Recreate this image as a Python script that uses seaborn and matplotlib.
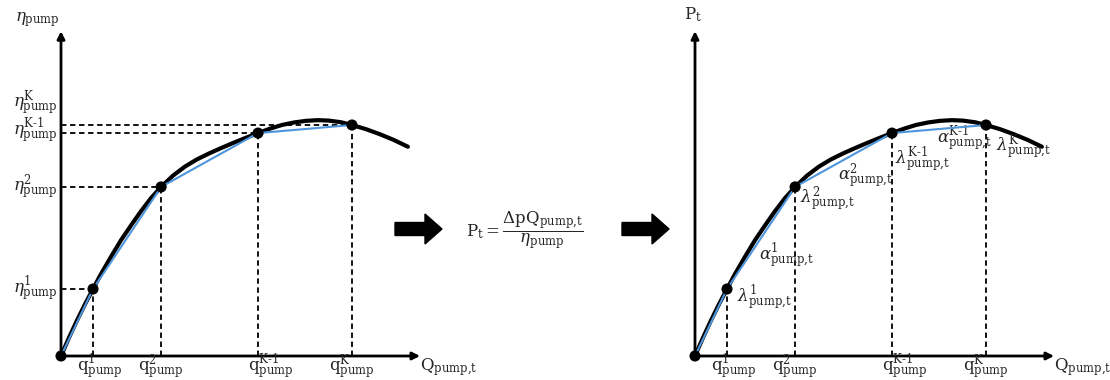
import matplotlib
matplotlib.use("Agg")
import matplotlib.pyplot as plt
import seaborn as sns
from matplotlib.patches import FancyArrow

# --- data (flow normalised so q^K = 1, efficiency so eta^K = 1) ---
curve_q = [0, 0.027, 0.055, 0.082, 0.11, 0.137, 0.172, 0.206, 0.241, 0.275, 0.309,
           0.344, 0.385, 0.426, 0.467, 0.509, 0.55, 0.591, 0.632, 0.677, 0.718,
           0.759, 0.801, 0.842, 0.883, 0.921, 0.962, 1.0, 1.048, 1.096, 1.144, 1.192]
curve_eta = [0, 0.078, 0.154, 0.223, 0.29, 0.354, 0.43, 0.501, 0.566, 0.627, 0.683,
             0.732, 0.781, 0.82, 0.851, 0.877, 0.9, 0.922, 0.943, 0.965, 0.984,
             1.0, 1.011, 1.018, 1.021, 1.019, 1.012, 1.0, 0.982, 0.96, 0.935, 0.906]
bp_q = [0, 0.11, 0.344, 0.677, 1.0]
bp_eta = [0, 0.29, 0.732, 0.965, 1.0]

# right panel: the power curve is drawn with the same shape
curve_p = [0, 0.078, 0.154, 0.223, 0.29, 0.354, 0.43, 0.501, 0.566, 0.627, 0.683,
           0.732, 0.781, 0.82, 0.851, 0.877, 0.9, 0.922, 0.943, 0.965, 0.984,
           1.0, 1.011, 1.018, 1.021, 1.019, 1.012, 1.0, 0.982, 0.96, 0.935, 0.906]
bp_p = [0, 0.29, 0.732, 0.965, 1.0]

q_labels = [r"$\mathrm{q}^{1}_{\mathrm{pump}}$", r"$\mathrm{q}^{2}_{\mathrm{pump}}$",
            r"$\mathrm{q}^{\mathrm{K\text{-}1}}_{\mathrm{pump}}$", r"$\mathrm{q}^{\mathrm{K}}_{\mathrm{pump}}$"]
eta_labels = [r"$\eta^{1}_{\mathrm{pump}}$", r"$\eta^{2}_{\mathrm{pump}}$",
              r"$\eta^{\mathrm{K\text{-}1}}_{\mathrm{pump}}$", r"$\eta^{\mathrm{K}}_{\mathrm{pump}}$"]
lambda_labels = [r"$\lambda^{1}_{\mathrm{pump{,}t}}$", r"$\lambda^{2}_{\mathrm{pump{,}t}}$",
                 r"$\lambda^{\mathrm{K\text{-}1}}_{\mathrm{pump{,}t}}$", r"$\lambda^{\mathrm{K}}_{\mathrm{pump{,}t}}$"]
alpha_labels = [r"$\alpha^{1}_{\mathrm{pump{,}t}}$", r"$\alpha^{2}_{\mathrm{pump{,}t}}$",
                r"$\alpha^{\mathrm{K\text{-}1}}_{\mathrm{pump{,}t}}$"]

# label placement (data coords of the panels)
eta_label_y = [0.29, 0.732, 0.978, 1.095]
q_label_dx = [0.025, 0.0, 0.045, 0.0]
lambda_pos = [(0.144, 0.255), (0.361, 0.68), (0.687, 0.85), (1.034, 0.905)]
alpha_pos = [(0.22, 0.433), (0.491, 0.779), (0.83, 0.94)]

sns.set_style("white")
plt.rcParams['font.family'] = ['DejaVu Serif', 'DejaVu Sans']
plt.rcParams['mathtext.fontset'] = 'dejavuserif'

BLUE = "#4f95db"
FS = 12
XMAX, YMAX = 362 / 291, 326 / 231

fig = plt.figure(figsize=(11.1, 3.8), dpi=100)

# overlay in pixel units for the arrows and the formula
ov = fig.add_axes([0, 0, 1, 1])
ov.set_xlim(0, 1110)
ov.set_ylim(380, 0)
ov.axis("off")


def make_panel(left_px):
    ax = fig.add_axes([left_px / 1110, 24 / 380, 362 / 1110, 326 / 380])
    ax.set_facecolor("none")
    for s in ax.spines.values():
        s.set_visible(False)
    ax.set_xticks([])
    ax.set_yticks([])
    # axis arrows
    for tip in [(XMAX - 0.01, 0), (0, YMAX - 0.005)]:
        ax.annotate("", xy=tip, xytext=(0, 0), annotation_clip=False,
                    arrowprops=dict(arrowstyle="-|>", lw=2.0, color="black",
                                    mutation_scale=11, shrinkA=0, shrinkB=0))
    return ax


def draw_curve(ax, y_curve, y_bp):
    sns.lineplot(x=curve_q, y=y_curve, sort=False, color="black", lw=3.0,
                 ax=ax, zorder=3, solid_joinstyle="round")
    sns.lineplot(x=bp_q, y=y_bp, sort=False, color=BLUE, lw=1.5, ax=ax, zorder=4)
    sns.scatterplot(x=bp_q, y=y_bp, color="black", s=64, edgecolor="none",
                    ax=ax, zorder=6, clip_on=False)
    ax.vlines(bp_q[1:], 0, y_bp[1:], colors="black", linestyles=(0, (3, 2)), lw=1.3, zorder=2)
    for q, lab, dx in zip(bp_q[1:], q_labels, q_label_dx):
        ax.text(q + dx, -0.047, lab, ha="center", va="center", fontsize=FS)
    ax.text(1.232, -0.047, r"$\mathrm{Q}_{\mathrm{pump{,}t}}$", ha="left", va="center", fontsize=FS)
    ax.set_xlim(0, XMAX)
    ax.set_ylim(0, YMAX)
    ax.set_xlabel("")
    ax.set_ylabel("")


# --- left panel: efficiency curve ---
ax1 = make_panel(61)
draw_curve(ax1, curve_eta, bp_eta)
ax1.hlines(bp_eta[1:], 0, bp_q[1:], colors="black", linestyles=(0, (3, 2)), lw=1.3, zorder=2)
for y, lab in zip(eta_label_y, eta_labels):
    ax1.text(-0.012, y, lab, ha="right", va="center", fontsize=FS)
ax1.text(-0.082, 1.455, r"$\eta_{\mathrm{pump}}$", ha="center", va="center", fontsize=FS)

# --- right panel: power curve ---
ax2 = make_panel(695)
draw_curve(ax2, curve_p, bp_p)
for (x, y), lab in zip(lambda_pos, lambda_labels):
    ax2.text(x, y, lab, ha="left", va="center", fontsize=FS)
for (x, y), lab in zip(alpha_pos, alpha_labels):
    ax2.text(x, y, lab, ha="left", va="center", fontsize=FS)
ax2.text(-0.007, 1.476, r"$\mathrm{P}_{\mathrm{t}}$", ha="center", va="center", fontsize=FS)

# --- block arrows and formula ---
for x0 in [395, 622]:
    ov.add_patch(FancyArrow(x0, 229, 47, 0, width=13, head_width=30, head_length=17,
                            length_includes_head=True, color="black"))
ov.text(525, 230, r"$\mathrm{P}_{\mathrm{t}} = \dfrac{\Delta\mathrm{p}\mathrm{Q}_{\mathrm{pump{,}t}}}{\eta_{\mathrm{pump}}}$",
        ha="center", va="center", fontsize=FS)

fig.savefig("out.png", dpi=100)
